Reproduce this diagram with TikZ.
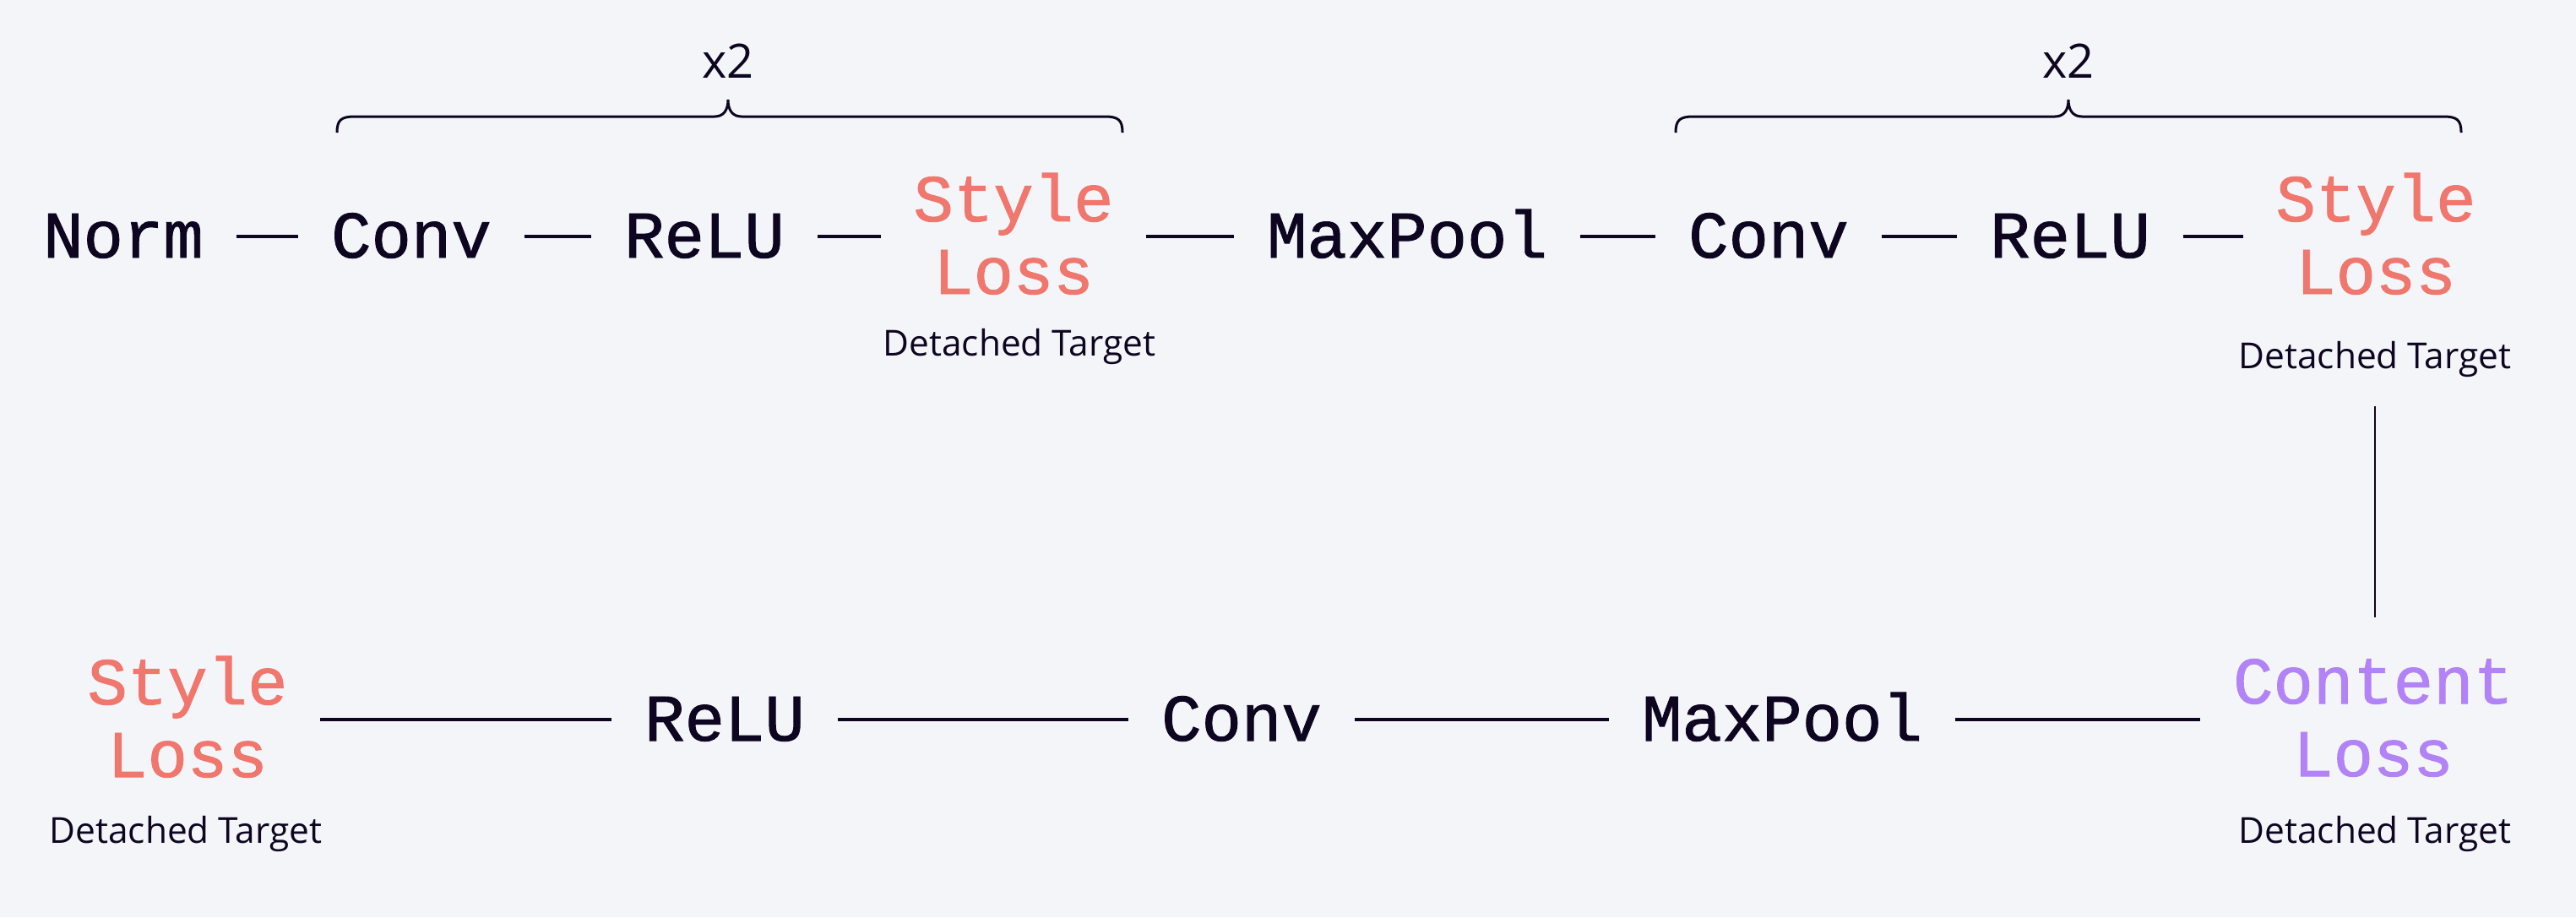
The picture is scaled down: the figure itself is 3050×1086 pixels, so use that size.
\documentclass[tikz,border=0pt]{standalone}
\usepackage{fontspec}
\setmainfont{Open Sans}
\newfontfamily\monofont[FakeBold=1.2]{Liberation Mono}
\definecolor{bgc}{HTML}{F4F5F9}
\definecolor{ink}{HTML}{0E0620}
\definecolor{salmon}{HTML}{F0776D}
\definecolor{lilac}{HTML}{B283F6}
\begin{document}
\begin{tikzpicture}[x=0.25pt,y=-0.25pt,
  mono/.style={font=\monofont\fontsize{19.75}{21.5}\selectfont, text=ink, inner xsep=9.5pt, inner ysep=0pt},
  single/.style={mono, text height=12.5pt, text depth=0pt, anchor=base},
  loss/.style={mono, align=center, anchor=base, inner ysep=12pt},
  caption/.style={font=\fontsize{10.6}{12}\selectfont, text=ink, inner sep=8.5pt, anchor=base},
  times/.style={font=\fontsize{14}{16}\selectfont, text=ink, inner sep=0pt, anchor=base},
  conn/.style={draw=ink, line width=0.875pt},
  vconn/.style={draw=ink, line width=0.6pt},
  bracepath/.style={draw=ink, line width=0.75pt}
]
\fill[bgc] (0,0) rectangle (3050,1086);

% top row
\node[single] (norm) at (146,305) {Norm};
\node[single] (conv1) at (487,305) {Conv};
\node[single] (relu1) at (834,305) {ReLU};
\node[loss, text=salmon] (sl1) at (1200,348) {Style\\Loss};
\node[caption] (dt1) at (1207,421) {Detached Target};
\node[single] (mp1) at (1666,305) {MaxPool};
\node[single] (conv2) at (2094,305) {Conv};
\node[single] (relu2) at (2451,305) {ReLU};
\node[loss, text=salmon] (sl2) at (2813,348) {Style\\Loss};
\node[caption] (dt2) at (2812,436) {Detached Target};

% bottom row
\node[loss, text=salmon] (sl3) at (222,920) {Style\\Loss};
\node[caption] (dt3) at (220,998) {Detached Target};
\node[single] (relu3) at (858,877) {ReLU};
\node[single] (conv3) at (1470,877) {Conv};
\node[single] (mp3) at (2110,877) {MaxPool};
\node[loss, text=lilac] (cl) at (2810,919) {Content\\Loss};
\node[caption] (dt4) at (2812,998) {Detached Target};

% connectors
\draw[conn] (norm) -- (conv1);
\draw[conn] (conv1) -- (relu1);
\draw[conn] (relu1) -- (relu1 -| sl1.west);
\draw[conn] (sl1.east |- mp1) -- (mp1);
\draw[conn] (mp1) -- (conv2);
\draw[conn] (conv2) -- (relu2);
\draw[conn] (relu2) -- (relu2 -| sl2.west);
\draw[vconn] (dt2.south) -- (dt2.south |- cl.north);
\draw[conn] (relu3 -| sl3.east) -- (relu3);
\draw[conn] (relu3) -- (conv3);
\draw[conn] (conv3) -- (mp3);
\draw[conn] (mp3) -- (mp3 -| cl.west);

% braces
\draw[bracepath] (399,157) .. controls (399,142) and (404,138) .. (420,138)
  -- (846,138) .. controls (857,138) and (862,130) .. (862,118)
  .. controls (862,130) and (867,138) .. (878,138)
  -- (1308,138) .. controls (1324,138) and (1329,142) .. (1329,157);
\draw[bracepath] (1984,157) .. controls (1984,142) and (1989,138) .. (2005,138)
  -- (2433,138) .. controls (2444,138) and (2449,130) .. (2449,118)
  .. controls (2449,130) and (2454,138) .. (2465,138)
  -- (2893,138) .. controls (2909,138) and (2914,142) .. (2914,157);
\node[times] (rep1) at (862,92) {x2};
\node[times] (rep2) at (2449,92) {x2};
\end{tikzpicture}
\end{document}
